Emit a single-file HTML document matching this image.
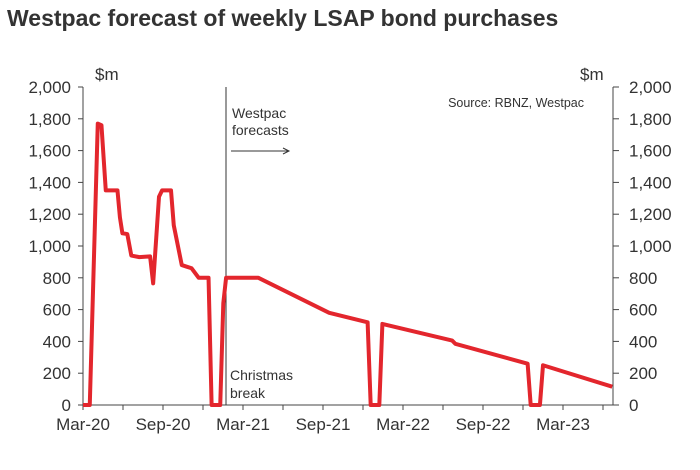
<!DOCTYPE html>
<html><head><meta charset="utf-8"><style>
body{margin:0;background:#fff;width:700px;height:465px;overflow:hidden;font-family:"Liberation Sans",Arial,sans-serif;}
</style></head><body>
<svg width="700" height="465" xmlns="http://www.w3.org/2000/svg">
<text x="7" y="26" font-size="23" font-weight="bold" fill="#333">Westpac forecast of weekly LSAP bond purchases</text>
<g id="axes"></g>
<polyline id="line" fill="none" stroke="#e3262d" stroke-width="4" stroke-linejoin="round"/>
</svg>
<script>
const weeks=[0,2.2,4.8,6,7.4,11.2,12,12.8,14.4,15.7,18.3,21.8,22.8,23.8,24.7,25.7,28.6,29.5,32.1,33.7,35.3,37.6,40.8,41.8,44.6,45.6,46.5,57,80,92.5,93.5,96.3,97.3,120,121,144.5,145.5,148.5,149.5,172];
const values=[0,0,1770,1760,1350,1350,1180,1080,1075,940,930,935,765,1050,1310,1350,1350,1130,880,870,860,800,800,0,0,640,800,800,580,520,0,0,510,405,385,260,0,0,250,115];
const yTicks=[0,200,400,600,800,1000,1200,1400,1600,1800,2000];
const xLabels=["Mar-20","Sep-20","Mar-21","Sep-21","Mar-22","Sep-22","Mar-23"];
const X0=83,PXW=80/26,Y0=405,PXV=31.8/200,XR=613;
const xs=w=>X0+w*PXW, ys=v=>Y0-v*PXV;
const NS="http://www.w3.org/2000/svg",g=document.getElementById('axes');
function mk(t,a,txt){const e=document.createElementNS(NS,t);for(const k in a)e.setAttribute(k,a[k]);if(txt!==undefined)e.textContent=txt;g.appendChild(e);return e;}
let e;
e=mk('line',{x1:X0,y1:ys(2000),x2:X0,y2:Y0,stroke:'#444'});


e=mk('line',{x1:XR,y1:ys(2000),x2:XR,y2:Y0,stroke:'#444'});


e=mk('line',{x1:X0,y1:Y0,x2:XR,y2:Y0,stroke:'#444'});


yTicks.forEach(v=>{
 mk('line',{x1:X0-5,x2:X0,y1:ys(v),y2:ys(v),stroke:'#444'});
 mk('line',{x1:XR,x2:XR+6,y1:ys(v),y2:ys(v),stroke:'#444'});
 e=mk('text',{x:X0-12,y:ys(v)+6,'text-anchor':'end','font-size':17,fill:'#333'},v.toLocaleString('en-US'));
 
 
 e=mk('text',{x:XR+16,y:ys(v)+6,'font-size':17,fill:'#333'},v.toLocaleString('en-US'));
 
 
});
for(let i=0;i<=13;i++){const x=xs(i*13);if(x<=XR)mk('line',{x1:x,x2:x,y1:Y0,y2:Y0+5,stroke:'#444'});}
xLabels.forEach((l,i)=>{
 e=mk('text',{x:xs(i*26),y:Y0+25,'text-anchor':'middle','font-size':17,fill:'#333'},l);
 
 
});
e=mk('text',{x:95,y:80,'font-size':17,fill:'#333'},'$m');


e=mk('text',{x:580,y:80,'font-size':17,fill:'#333'},'$m');


e=mk('text',{x:584,y:107,'text-anchor':'end','font-size':12.5,fill:'#333'},'Source: RBNZ, Westpac');


e=mk('line',{x1:226,x2:226,y1:ys(2000),y2:Y0,stroke:'#333'});


e=mk('text',{x:232,y:118,'font-size':14,fill:'#333'},'Westpac');


mk('text',{x:232,y:135,'font-size':14,fill:'#333'},'forecasts');
e=mk('line',{x1:231,x2:288,y1:151,y2:151,stroke:'#333'});


mk('path',{d:'M283,148 L289,151 L283,154',fill:'none',stroke:'#333'});
e=mk('text',{x:230,y:380,'font-size':14,fill:'#333'},'Christmas');


mk('text',{x:230,y:398,'font-size':14,fill:'#333'},'break');
document.getElementById('line').setAttribute('points',weeks.map((w,i)=>xs(w)+','+ys(values[i])).join(' '));
</script>
</body></html>
